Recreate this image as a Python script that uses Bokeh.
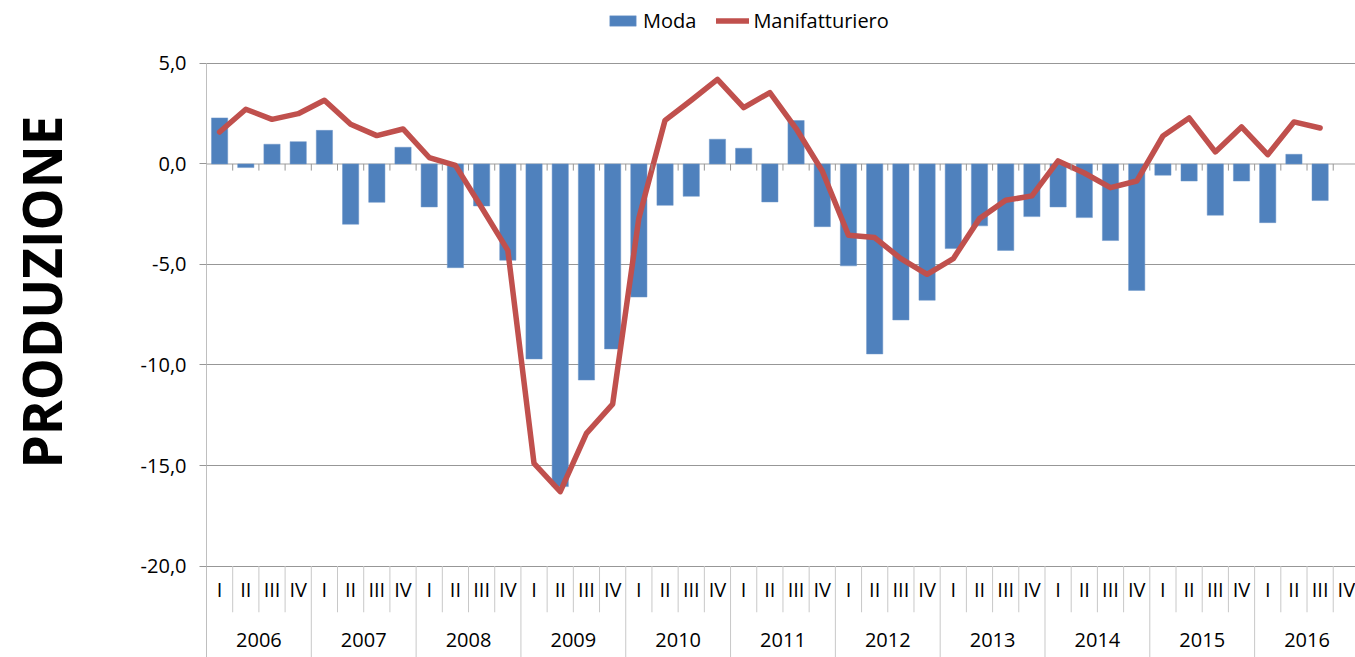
import math
from bokeh.plotting import figure
from bokeh.models import Range1d, FixedTicker, Legend, LegendItem, Title, Span
from bokeh.core.properties import value
from bokeh.embed import file_html
from bokeh.resources import INLINE

years = ["2006", "2007", "2008", "2009", "2010", "2011", "2012", "2013", "2014", "2015", "2016"]
quarters = ["I", "II", "III", "IV"]
moda = [2.29, -0.18, 0.98, 1.11,
        1.67, -3.0, -1.91, 0.83,
        -2.14, -5.16, -2.09, -4.79,
        -9.7, -16.05, -10.75, -9.2,
        -6.62, -2.06, -1.61, 1.23,
        0.78, -1.89, 2.16, -3.12,
        -5.07, -9.45, -7.76, -6.78,
        -4.21, -3.08, -4.30, -2.62,
        -2.14, -2.67, -3.81, -6.29,
        -0.56, -0.85, -2.55, -0.85,
        -2.92, 0.48, -1.82]
manifatturiero = [1.59, 2.72, 2.22, 2.50,
                  3.17, 1.97, 1.41, 1.74,
                  0.32, -0.07, -2.17, -4.30,
                  -14.9, -16.3, -13.4, -11.95,
                  -2.7, 2.17, 3.17, 4.21,
                  2.80, 3.55, 1.76, -0.35,
                  -3.55, -3.66, -4.71, -5.49,
                  -4.71, -2.72, -1.81, -1.59,
                  0.15, -0.45, -1.18, -0.85,
                  1.39, 2.29, 0.60, 1.84,
                  0.46, 2.09, 1.79]
y_ticks = [-20, -15, -10, -5, 0, 5]
y_tick_labels = ["-20,0", "-15,0", "-10,0", "-5,0", "0,0", "5,0"]

FONT = "Open Sans"
n_q = len(years) * len(quarters)
Y_TOP, Y_BOT = 5, -24.55

p = figure(width=1355, height=657, output_backend="svg", toolbar_location=None,
           x_range=Range1d(0, 43.85), y_range=Range1d(Y_BOT, 8.13),
           min_border_left=206, min_border_right=0, min_border_top=0, min_border_bottom=0)
p.outline_line_color = None
p.xaxis.visible = False
p.xgrid.visible = False
p.ygrid.ticker = FixedTicker(ticks=[t for t in y_ticks if t != 0])
p.ygrid.grid_line_color = "#979797"
p.ygrid.grid_line_width = 1

ax = p.yaxis[0]
ax.ticker = FixedTicker(ticks=y_ticks)
ax.bounds = (Y_BOT, Y_TOP)
ax.major_label_overrides = {t: l for t, l in zip(y_ticks, y_tick_labels)}
ax.axis_line_color = "#bfbfbf"
ax.major_tick_line_color = "#979797"
ax.major_tick_out = 7
ax.major_tick_in = 0
ax.minor_tick_line_color = None
ax.major_label_standoff = 13
ax.major_label_text_font = FONT
ax.major_label_text_font_size = "20px"
ax.major_label_text_color = "#000000"
ax.axis_label = " "
ax.axis_label_text_font_size = "20px"
ax.axis_label_standoff = 38

# zero axis line
p.add_layout(Span(location=0, dimension="width", line_color="#bfbfbf", line_width=1.5, level="underlay"))

xs = [i + 0.5 for i in range(len(moda))]
bars = p.vbar(x=xs, top=moda, width=0.62, fill_color="#4F81BD", line_color="#6F97C9", line_width=0.5)
xl = [i + 0.5 for i in range(len(manifatturiero))]
line = p.line(x=xl, y=manifatturiero, line_color="#C0504D", line_width=5.5, line_join="round", line_cap="round")

# small ticks on the zero line
bounds = list(range(1, n_q))
p.segment(x0=bounds, y0=[0] * len(bounds), x1=bounds, y1=[-0.33] * len(bounds), line_color="#979797", line_width=1)

# category separators below the plot
q_b = [b for b in bounds if b % 4 != 0]
y_b = [b for b in bounds if b % 4 == 0]
p.segment(x0=q_b, y0=[-20] * len(q_b), x1=q_b, y1=[-22.3] * len(q_b), line_color="#c8c8c8", line_width=1)
p.segment(x0=y_b, y0=[-20] * len(y_b), x1=y_b, y1=[Y_BOT] * len(y_b), line_color="#c8c8c8", line_width=1)

q_labels = [quarters[i % 4] for i in range(n_q)]
p.text(x=[i + 0.5 for i in range(n_q)], y=[-21.17] * n_q, text=q_labels,
       text_font=value(FONT), text_font_size="20px", text_align="center", text_baseline="middle",
       text_color="#000000")
p.text(x=[4 * k + 2 for k in range(len(years))], y=[-23.7] * len(years), text=years,
       text_font=value(FONT), text_font_size="20px", text_align="center", text_baseline="middle",
       text_color="#000000")

# legend
leg = Legend(items=[LegendItem(label="Moda", renderers=[bars]),
                    LegendItem(label="Manifatturiero", renderers=[line])],
             location=(400, 623), orientation="horizontal",
             glyph_width=33, glyph_height=13, label_height=20, label_standoff=4, spacing=20,
             padding=0, margin=0, border_line_color=None, background_fill_alpha=0,
             label_text_font=FONT, label_text_font_size="20px", label_text_color="#000000")
p.add_layout(leg)

title = Title(text="PRODUZIONE", align="left", offset=189, standoff=-6,
              text_font=FONT, text_font_size="53px", text_font_style="bold", text_color="#000000")
p.add_layout(title, "left")

open("out.html", "w").write(file_html(p, INLINE))
